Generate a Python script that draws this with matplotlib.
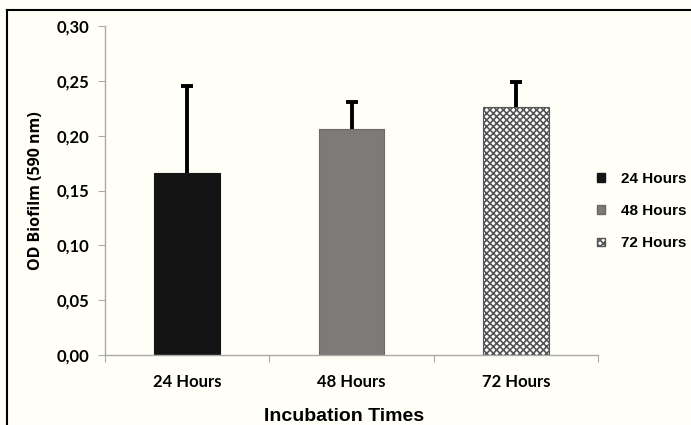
import matplotlib
matplotlib.use("Agg")
import matplotlib.pyplot as plt
from matplotlib.patches import Patch
from matplotlib.lines import Line2D

categories = ["24 Hours", "48 Hours", "72 Hours"]
values = [0.166, 0.206, 0.226]
errors = [0.079, 0.025, 0.023]
yticks = [0.00, 0.05, 0.10, 0.15, 0.20, 0.25, 0.30]
ytick_labels = ["0,00", "0,05", "0,10", "0,15", "0,20", "0,25", "0,30"]

bg = "#fffef7"
plt.rcParams['font.family'] = ['Liberation Sans', 'DejaVu Sans']
plt.rcParams['hatch.linewidth'] = 1.2

fig = plt.figure(figsize=(6.91, 4.25), dpi=100, facecolor=bg)
ax = fig.add_axes([105/691, 1-355/425, (598-105)/691, (355-26)/425])
ax.set_facecolor(bg)

x = list(range(len(categories)))
styles = [dict(color="#141414", hatch=None, edgecolor="#141414"),
          dict(color="#7d7b77", hatch=None, edgecolor="#6a6864"),
          dict(color="#ffffff", hatch="xxxxx", edgecolor="#555555")]
for i in x:
    s = styles[i]
    ax.bar(i, values[i], width=0.4, color=s["color"], edgecolor=s["edgecolor"],
           hatch=s["hatch"], linewidth=0.8, zorder=2)
    eb = ax.errorbar(i, values[i], yerr=[[0], [errors[i]]], fmt="none", ecolor="black",
                     elinewidth=2.8, capsize=4, capthick=2.8, zorder=3)
    eb[1][0].set_visible(False)

lato = ['Lato', 'DejaVu Sans']
opensans = ['Open Sans', 'DejaVu Sans']
ax.set_xlim(-0.5, 2.5)
ax.set_ylim(0, 0.30)
ax.set_yticks(yticks)
ax.set_yticklabels(ytick_labels, fontsize=12, fontweight="bold", family=lato)
ax.set_xticks([-0.5, 0.5, 1.5, 2.5])
ax.set_xticklabels([])
ax.set_xticks(x, minor=True)
ax.set_xticklabels(categories, minor=True, fontsize=12, fontweight="bold", family=lato)
ax.tick_params(axis="x", which="minor", length=0, pad=14)
ax.tick_params(axis="x", which="major", length=5, color="#aaaaaa", direction="out")
ax.tick_params(axis="y", length=5, color="#aaaaaa", direction="out", pad=6)
for sp in ["top", "right"]:
    ax.spines[sp].set_visible(False)
for sp in ["left", "bottom"]:
    ax.spines[sp].set_color("#aaaaaa")
    ax.spines[sp].set_linewidth(1.0)

ax.set_ylabel("OD Biofilm (590 nm)", fontsize=11.5, fontweight="bold", family=opensans)
ax.yaxis.set_label_coords((44-105)/493, 0.5)
ax.set_xlabel("Incubation Times", fontsize=14, fontweight="bold")
ax.xaxis.set_label_coords((344-105)/493, (355-408)/329)

handles = [Patch(facecolor=s["color"], edgecolor=s["edgecolor"], hatch=s["hatch"])
           for s in styles]
leg = fig.legend(handles, categories, loc="center left",
                 bbox_to_anchor=(597/691, 1-211/425), frameon=False, borderpad=0,
                 borderaxespad=0,
                 handlelength=0.5, handleheight=0.5, handletextpad=1.05,
                 labelspacing=1.2, prop=dict(weight="bold", size=11))

# outer frame lines (left and top)
fig.add_artist(Line2D([7/691, 7/691], [0, 1-10/425], color="black", lw=1.5,
                      transform=fig.transFigure))
fig.add_artist(Line2D([7/691, 1], [1-10/425, 1-10/425], color="black", lw=1.5,
                      transform=fig.transFigure))

fig.savefig("out.png", dpi=100, facecolor=bg)
